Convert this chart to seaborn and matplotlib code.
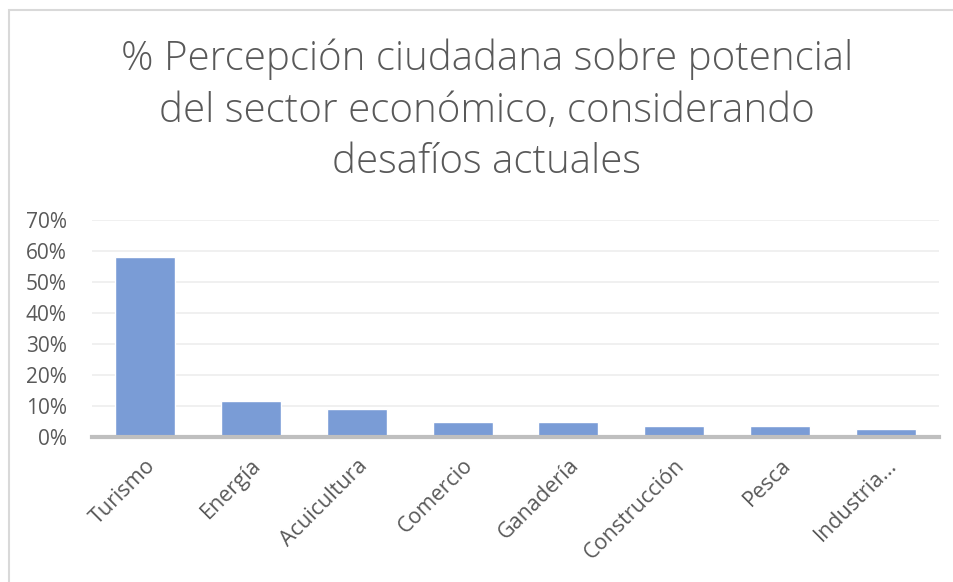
import matplotlib
matplotlib.use('Agg')
import matplotlib.pyplot as plt
import seaborn as sns
import pandas as pd
from matplotlib.ticker import PercentFormatter
from matplotlib.patches import Rectangle

# Data
sectores = ['Turismo', 'Energía', 'Acuicultura', 'Comercio', 'Ganadería',
            'Construcción', 'Pesca', 'Industria...']
porcentajes = [0.58, 0.115, 0.09, 0.05, 0.05, 0.037, 0.037, 0.025]
y_ticks = [0, 0.1, 0.2, 0.3, 0.4, 0.5, 0.6, 0.7]

df = pd.DataFrame({'sector': sectores, 'pct': porcentajes})

sns.set_theme(style='white')
plt.rcParams['font.family'] = ['Open Sans', 'DejaVu Sans']

gray_txt = '#595959'
fig = plt.figure(figsize=(9.54, 5.82), dpi=100)
ax = fig.add_axes([92 / 954, 1 - 437 / 582, (939 - 92) / 954, (437 - 220) / 582])

sns.barplot(data=df, x='sector', y='pct', color='#7A9CD6', saturation=1,
            width=0.566, ax=ax)

ax.set_ylim(0, 0.7)
ax.set_yticks(y_ticks)
ax.yaxis.set_major_formatter(PercentFormatter(1.0, decimals=0))
ax.grid(axis='y', color='#EDEDED', linewidth=1.2)
ax.set_axisbelow(True)
for s in ['top', 'right', 'left']:
    ax.spines[s].set_visible(False)
ax.spines['bottom'].set_color('#BFBFBF')
ax.spines['bottom'].set_linewidth(3)
ax.set_xlabel('')
ax.set_ylabel('')
ax.tick_params(axis='both', length=0, colors=gray_txt)
ax.tick_params(axis='x', pad=13, labelsize=15.5)
ax.tick_params(axis='y', pad=18, labelsize=15)
for lab in ax.get_yticklabels():
    lab.set_horizontalalignment('right')
plt.setp(ax.get_xticklabels(), rotation=45, ha='right', rotation_mode='anchor')

fig.text(487 / 954, 1 - 39 / 582,
         '% Percepción ciudadana sobre potencial\n'
         'del sector económico, considerando\n'
         'desafíos actuales',
         ha='center', va='top', fontsize=29, color=gray_txt,
         fontweight='light', linespacing=1.33)

# light chart-area border (cropped at right and bottom)
fig.patches.append(Rectangle((9 / 954, -0.1), 1.2, 1 - 10 / 582 + 0.1,
                             transform=fig.transFigure, fill=False,
                             edgecolor='#D9D9D9', linewidth=1.5))

plt.savefig('out.png', dpi=100)
